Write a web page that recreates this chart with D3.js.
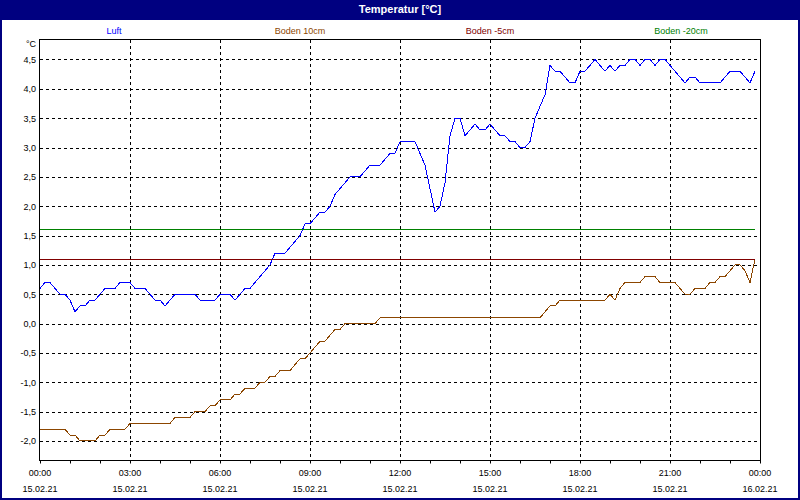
<!DOCTYPE html>
<meta charset="utf-8">

<!-- Load d3.js -->
<script src="https://d3js.org/d3.v7.min.js"></script>

<style>
    body {
        margin: 0;
        background: #fff;
    }

    svg text {
        font-family: "Liberation Sans", Arial, sans-serif;
    }
</style>

<div id="my_dataviz"></div>

<script>

    // ---- data: one reading every 10 minutes, 15.02.21 00:00 .. 23:50 ----
    var sampleMinutes = 10;

    var seriesNames = ["Luft", "Boden 10cm", "Boden -5cm", "Boden -20cm"];
    var seriesColors = ["#0000ff", "#8c4600", "#800000", "#008000"];

    var luft = [
        0.6, 0.7, 0.7, 0.6, 0.5, 0.5,
        0.4, 0.2, 0.3, 0.3, 0.4, 0.4,
        0.5, 0.6, 0.6, 0.6, 0.7, 0.7,
        0.7, 0.6, 0.6, 0.6, 0.5, 0.4,
        0.4, 0.3, 0.4, 0.5, 0.5, 0.5,
        0.5, 0.5, 0.4, 0.4, 0.4, 0.4,
        0.5, 0.5, 0.5, 0.4, 0.5, 0.6,
        0.6, 0.7, 0.8, 0.9, 1.0, 1.2,
        1.2, 1.2, 1.3, 1.4, 1.5, 1.7,
        1.7, 1.8, 1.9, 1.9, 2.0, 2.2,
        2.3, 2.4, 2.5, 2.5, 2.5, 2.6,
        2.7, 2.7, 2.7, 2.8, 2.9, 2.9,
        3.1, 3.1, 3.1, 3.1, 2.9, 2.7,
        2.3, 1.9, 2.0, 2.4, 3.2, 3.5,
        3.5, 3.2, 3.3, 3.4, 3.3, 3.3,
        3.4, 3.3, 3.2, 3.2, 3.1, 3.1,
        3.0, 3.0, 3.1, 3.5, 3.7, 3.9,
        4.4, 4.3, 4.3, 4.2, 4.1, 4.1,
        4.3, 4.3, 4.4, 4.5, 4.4, 4.3,
        4.4, 4.3, 4.4, 4.4, 4.5, 4.5,
        4.4, 4.5, 4.5, 4.4, 4.5, 4.5,
        4.4, 4.3, 4.2, 4.1, 4.2, 4.2,
        4.1, 4.1, 4.1, 4.1, 4.1, 4.2,
        4.3, 4.3, 4.3, 4.2, 4.1, 4.3
    ];

    var boden10 = [
        -1.8, -1.8, -1.8, -1.8, -1.8, -1.8,
        -1.9, -1.9, -2.0, -2.0, -2.0, -2.0,
        -1.9, -1.9, -1.8, -1.8, -1.8, -1.8,
        -1.7, -1.7, -1.7, -1.7, -1.7, -1.7,
        -1.7, -1.7, -1.7, -1.6, -1.6, -1.6,
        -1.6, -1.5, -1.5, -1.5, -1.4, -1.4,
        -1.3, -1.3, -1.3, -1.2, -1.2, -1.1,
        -1.1, -1.1, -1.0, -1.0, -0.9, -0.9,
        -0.8, -0.8, -0.8, -0.7, -0.6, -0.6,
        -0.5, -0.4, -0.3, -0.3, -0.2, -0.1,
        -0.1, 0.0, 0.0, 0.0, 0.0, 0.0,
        0.0, 0.0, 0.1, 0.1, 0.1, 0.1,
        0.1, 0.1, 0.1, 0.1, 0.1, 0.1,
        0.1, 0.1, 0.1, 0.1, 0.1, 0.1,
        0.1, 0.1, 0.1, 0.1, 0.1, 0.1,
        0.1, 0.1, 0.1, 0.1, 0.1, 0.1,
        0.1, 0.1, 0.1, 0.1, 0.1, 0.2,
        0.3, 0.3, 0.4, 0.4, 0.4, 0.4,
        0.4, 0.4, 0.4, 0.4, 0.4, 0.4,
        0.5, 0.4, 0.6, 0.7, 0.7, 0.7,
        0.7, 0.8, 0.8, 0.8, 0.7, 0.7,
        0.7, 0.7, 0.6, 0.5, 0.5, 0.6,
        0.6, 0.6, 0.7, 0.7, 0.8, 0.8,
        0.9, 1.0, 1.0, 0.9, 0.7, 1.1
    ];

    var bodenMinus5 = [
        1.1, 1.1, 1.1, 1.1, 1.1, 1.1, 1.1, 1.1, 1.1, 1.1, 1.1, 1.1,
        1.1, 1.1, 1.1, 1.1, 1.1, 1.1, 1.1, 1.1, 1.1, 1.1, 1.1, 1.1,
        1.1, 1.1, 1.1, 1.1, 1.1, 1.1, 1.1, 1.1, 1.1, 1.1, 1.1, 1.1,
        1.1, 1.1, 1.1, 1.1, 1.1, 1.1, 1.1, 1.1, 1.1, 1.1, 1.1, 1.1,
        1.1, 1.1, 1.1, 1.1, 1.1, 1.1, 1.1, 1.1, 1.1, 1.1, 1.1, 1.1,
        1.1, 1.1, 1.1, 1.1, 1.1, 1.1, 1.1, 1.1, 1.1, 1.1, 1.1, 1.1,
        1.1, 1.1, 1.1, 1.1, 1.1, 1.1, 1.1, 1.1, 1.1, 1.1, 1.1, 1.1,
        1.1, 1.1, 1.1, 1.1, 1.1, 1.1, 1.1, 1.1, 1.1, 1.1, 1.1, 1.1,
        1.1, 1.1, 1.1, 1.1, 1.1, 1.1, 1.1, 1.1, 1.1, 1.1, 1.1, 1.1,
        1.1, 1.1, 1.1, 1.1, 1.1, 1.1, 1.1, 1.1, 1.1, 1.1, 1.1, 1.1,
        1.1, 1.1, 1.1, 1.1, 1.1, 1.1, 1.1, 1.1, 1.1, 1.1, 1.1, 1.1,
        1.1, 1.1, 1.1, 1.1, 1.1, 1.1, 1.1, 1.1, 1.1, 1.1, 1.1, 1.1
    ];

    var bodenMinus20 = [
        1.6, 1.6, 1.6, 1.6, 1.6, 1.6, 1.6, 1.6, 1.6, 1.6, 1.6, 1.6,
        1.6, 1.6, 1.6, 1.6, 1.6, 1.6, 1.6, 1.6, 1.6, 1.6, 1.6, 1.6,
        1.6, 1.6, 1.6, 1.6, 1.6, 1.6, 1.6, 1.6, 1.6, 1.6, 1.6, 1.6,
        1.6, 1.6, 1.6, 1.6, 1.6, 1.6, 1.6, 1.6, 1.6, 1.6, 1.6, 1.6,
        1.6, 1.6, 1.6, 1.6, 1.6, 1.6, 1.6, 1.6, 1.6, 1.6, 1.6, 1.6,
        1.6, 1.6, 1.6, 1.6, 1.6, 1.6, 1.6, 1.6, 1.6, 1.6, 1.6, 1.6,
        1.6, 1.6, 1.6, 1.6, 1.6, 1.6, 1.6, 1.6, 1.6, 1.6, 1.6, 1.6,
        1.6, 1.6, 1.6, 1.6, 1.6, 1.6, 1.6, 1.6, 1.6, 1.6, 1.6, 1.6,
        1.6, 1.6, 1.6, 1.6, 1.6, 1.6, 1.6, 1.6, 1.6, 1.6, 1.6, 1.6,
        1.6, 1.6, 1.6, 1.6, 1.6, 1.6, 1.6, 1.6, 1.6, 1.6, 1.6, 1.6,
        1.6, 1.6, 1.6, 1.6, 1.6, 1.6, 1.6, 1.6, 1.6, 1.6, 1.6, 1.6,
        1.6, 1.6, 1.6, 1.6, 1.6, 1.6, 1.6, 1.6, 1.6, 1.6, 1.6, 1.6
    ];

    // tick labels
    var yTicks = [4.5, 4.0, 3.5, 3.0, 2.5, 2.0, 1.5, 1.0, 0.5, 0.0, -0.5, -1.0, -1.5, -2.0];
    var yTickLabels = ["4,5", "4,0", "3,5", "3,0", "2,5", "2,0", "1,5", "1,0", "0,5", "0,0", "-0,5", "-1,0", "-1,5", "-2,0"];
    var xTicks = [0, 180, 360, 540, 720, 900, 1080, 1260, 1440];   // minutes since 15.02.21 00:00
    var xTimeLabels = ["00:00", "03:00", "06:00", "09:00", "12:00", "15:00", "18:00", "21:00", "00:00"];
    var xDateLabels = ["15.02.21", "15.02.21", "15.02.21", "15.02.21", "15.02.21", "15.02.21", "15.02.21", "15.02.21", "16.02.21"];

    var series = [luft, boden10, bodenMinus5, bodenMinus20];

    // ---- layout ----
    var W = 800, H = 500;
    var margin = { top: 40, right: 40, bottom: 40, left: 40 },
        width = W - margin.left - margin.right,
        height = H - margin.top - margin.bottom;

    var svg = d3.select("#my_dataviz")
        .append("svg")
        .attr("width", W)
        .attr("height", H);

    // window frame + title bar
    svg.append("rect")
        .attr("x", 0).attr("y", 0)
        .attr("width", W).attr("height", H)
        .attr("fill", "#fff");
    svg.append("rect")
        .attr("x", 0).attr("y", 0)
        .attr("width", W).attr("height", 20)
        .attr("fill", "#000080");
    svg.append("rect")
        .attr("x", 1).attr("y", 1)
        .attr("width", W - 2).attr("height", H - 2)
        .attr("fill", "none")
        .attr("stroke", "#000080")
        .attr("stroke-width", 2);

    svg.append("text")
        .attr("x", W / 2).attr("y", 13)
        .attr("text-anchor", "middle")
        .attr("fill", "#fff")
        .style("font-size", "11px")
        .style("font-weight", "bold")
        .text("Temperatur [°C]");

    // legend row
    var legendX = [114, 300, 490, 681];
    svg.append("g")
        .selectAll("text")
        .data(seriesNames)
        .enter().append("text")
        .attr("x", function (d, i) { return legendX[i]; })
        .attr("y", 34)
        .attr("text-anchor", "middle")
        .attr("fill", function (d, i) { return seriesColors[i]; })
        .style("font-size", "9px")
        .text(function (d) { return d; });

    var g = svg.append("g")
        .attr("transform", "translate(" + margin.left + "," + margin.top + ")");

    // scales
    var x = d3.scaleLinear()
        .domain([0, 1440])
        .range([0, width]);

    var y = d3.scaleLinear()
        .domain([-2.324, 4.832])
        .range([height, 0]);

    var crisp = function (v) { return Math.round(v) + 0.5; };

    // horizontal grid
    g.append("g")
        .selectAll("line")
        .data(yTicks)
        .enter().append("line")
        .attr("x1", 0).attr("x2", width)
        .attr("y1", function (d) { return crisp(y(d)); })
        .attr("y2", function (d) { return crisp(y(d)); })
        .attr("stroke", "#000")
        .attr("stroke-dasharray", "3,3");

    // vertical grid (inner ticks only)
    g.append("g")
        .selectAll("line")
        .data(xTicks.slice(1, -1))
        .enter().append("line")
        .attr("x1", function (d) { return crisp(x(d)); })
        .attr("x2", function (d) { return crisp(x(d)); })
        .attr("y1", 0).attr("y2", height)
        .attr("stroke", "#000")
        .attr("stroke-dasharray", "3,3");

    // lines
    var line = d3.line()
        .x(function (d, i) { return x(i * sampleMinutes); })
        .y(function (d) { return y(d); });

    g.append("g")
        .selectAll("path")
        .data(series)
        .enter().append("path")
        .attr("d", line)
        .attr("fill", "none")
        .attr("stroke", function (d, i) { return seriesColors[i]; })
        .attr("stroke-width", 1)
        .style("shape-rendering", "crispEdges");

    // plot frame
    g.append("rect")
        .attr("x", -0.5).attr("y", -0.5)
        .attr("width", width + 1).attr("height", height + 1)
        .attr("fill", "none")
        .attr("stroke", "#000");

    // hourly ticks under the x axis
    var xAxis = g.append("g")
        .attr("transform", "translate(0," + (height + 0.5) + ")")
        .call(d3.axisBottom(x)
            .tickValues(d3.range(0, 1441, 60))
            .tickSize(3)
            .tickFormat(""));
    xAxis.select(".domain").remove();

    // x labels: time + date
    var xl = g.append("g")
        .selectAll("g")
        .data(xTicks)
        .enter().append("g")
        .attr("transform", function (d) { return "translate(" + x(d) + "," + height + ")"; });
    xl.append("text")
        .attr("y", 16)
        .attr("text-anchor", "middle")
        .style("font-size", "9px")
        .text(function (d, i) { return xTimeLabels[i]; });
    xl.append("text")
        .attr("y", 32)
        .attr("text-anchor", "middle")
        .style("font-size", "9px")
        .text(function (d, i) { return xDateLabels[i]; });

    // y labels
    var yAxis = g.append("g")
        .call(d3.axisLeft(y)
            .tickValues(yTicks)
            .tickSize(0)
            .tickPadding(4)
            .tickFormat(function (d, i) { return yTickLabels[i]; }));
    yAxis.select(".domain").remove();
    yAxis.selectAll("text")
        .style("font-size", "9px")
        .style("font-family", "'Liberation Sans', Arial, sans-serif")
        .attr("fill", "#000");

    g.append("text")
        .attr("x", -4).attr("y", 7)
        .attr("text-anchor", "end")
        .style("font-size", "9px")
        .text("°C");

</script>
